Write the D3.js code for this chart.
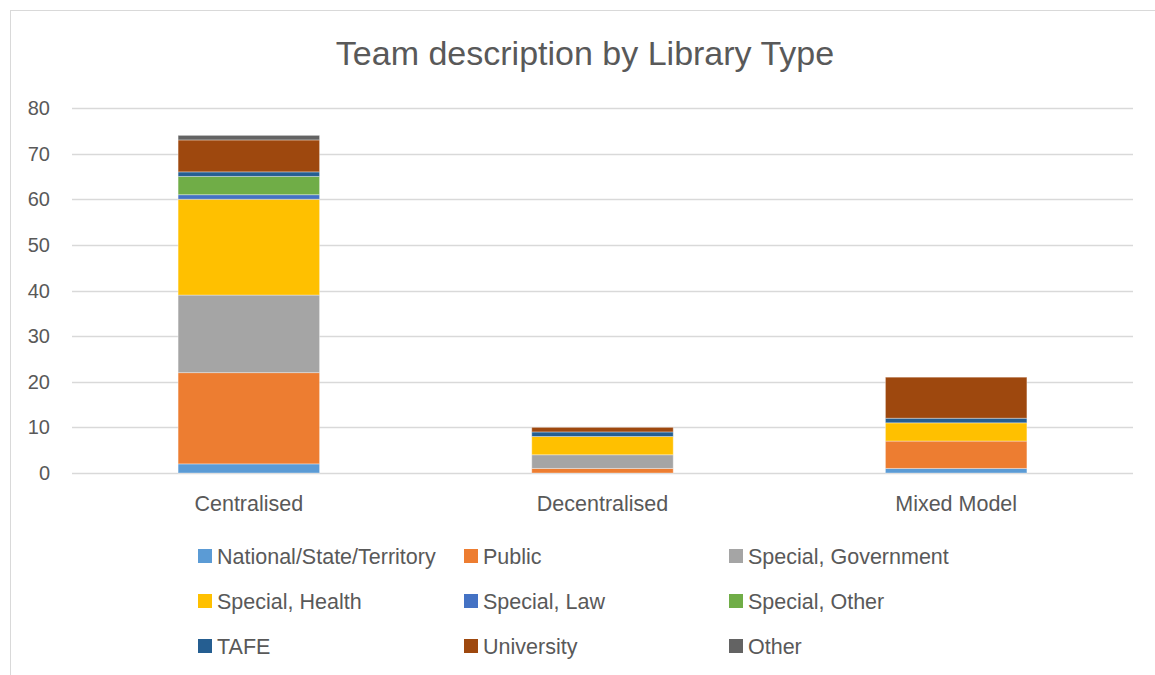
<!DOCTYPE html>
<html>
<head>
<meta charset="utf-8">
<script src="https://cdn.jsdelivr.net/npm/d3@7"></script>
<style>
  body { margin: 0; background: #fff; }
  svg text { font-family: "Liberation Sans", "Open Sans", sans-serif; fill: #595959; }
</style>
</head>
<body>
<div id="chart"></div>
<script>
// 数据
const categories = ['Centralised', 'Decentralised', 'Mixed Model'];
const seriesNames = ['National/State/Territory', 'Public', 'Special, Government', 'Special, Health',
  'Special, Law', 'Special, Other', 'TAFE', 'University', 'Other'];
const seriesColors = ['#5b9bd5', '#ed7d31', '#a5a5a5', '#ffc000', '#4472c4', '#70ad47', '#255e91', '#9e480e', '#636363'];
const centralised = [2, 20, 17, 21, 1, 4, 1, 7, 1];
const decentralised = [0, 1, 3, 4, 0, 0, 1, 1, 0];
const mixedModel = [1, 6, 0, 4, 0, 0, 1, 9, 0];
const yTicks = [0, 10, 20, 30, 40, 50, 60, 70, 80];

const width = 1155, height = 675;
const margin = { left: 72, right: 22, top: 108, bottom: 202 };

const svg = d3.select('#chart').append('svg')
  .attr('width', width)
  .attr('height', height);

// 外框
svg.append('rect')
  .attr('x', 10.5).attr('y', 10.5)
  .attr('width', width).attr('height', height)
  .attr('fill', 'none')
  .attr('stroke', '#d9d9d9');

// 标题
svg.append('text')
  .attr('x', 585).attr('y', 65)
  .attr('text-anchor', 'middle')
  .attr('font-size', 34)
  .text('Team description by Library Type');

const rows = categories.map((c, i) => {
  const vals = [centralised, decentralised, mixedModel][i];
  const row = { category: c };
  seriesNames.forEach((s, j) => { row[s] = vals[j]; });
  return row;
});

const stack = d3.stack().keys(seriesNames)(rows);

const x = d3.scaleBand()
  .domain(categories)
  .range([margin.left, width - margin.right])
  .paddingInner(0.6)
  .paddingOuter(0.3);

const y = d3.scaleLinear()
  .domain([0, 80])
  .range([height - margin.bottom, margin.top]);

// 网格线
svg.append('g')
  .selectAll('line')
  .data(yTicks)
  .join('line')
  .attr('x1', margin.left).attr('x2', width - margin.right)
  .attr('y1', d => Math.round(y(d)) + 0.5).attr('y2', d => Math.round(y(d)) + 0.5)
  .attr('stroke', '#d9d9d9')
  .attr('stroke-width', 1.5);

// Y轴标签
svg.append('g')
  .selectAll('text')
  .data(yTicks)
  .join('text')
  .attr('x', 50)
  .attr('y', d => y(d))
  .attr('dy', '0.35em')
  .attr('text-anchor', 'end')
  .attr('font-size', 20)
  .text(d => d);

// 堆叠柱
svg.append('g')
  .selectAll('g')
  .data(stack)
  .join('g')
  .attr('fill', (d, i) => seriesColors[i])
  .selectAll('rect')
  .data(d => d)
  .join('rect')
  .attr('x', d => x(d.data.category))
  .attr('width', x.bandwidth())
  .attr('y', d => y(d[1]))
  .attr('height', d => y(d[0]) - y(d[1]))
  .attr('stroke', '#fff')
  .attr('stroke-opacity', 0.35)
  .attr('stroke-width', d => d[1] > d[0] ? 1 : 0);

// X轴标签
svg.append('g')
  .selectAll('text')
  .data(categories)
  .join('text')
  .attr('x', d => x(d) + x.bandwidth() / 2)
  .attr('y', 511)
  .attr('text-anchor', 'middle')
  .attr('font-size', 21.5)
  .text(d => d);

// 图例
const legendCols = [198, 464, 729];
const legendRows = [556, 601, 646];
const legend = svg.append('g')
  .selectAll('g')
  .data(seriesNames)
  .join('g')
  .attr('transform', (d, i) => `translate(${legendCols[i % 3]}, ${legendRows[Math.floor(i / 3)]})`);

legend.append('rect')
  .attr('x', 0).attr('y', -7)
  .attr('width', 14).attr('height', 14)
  .attr('fill', (d, i) => seriesColors[i]);

legend.append('text')
  .attr('x', 19)
  .attr('dy', '0.35em')
  .attr('font-size', 21.5)
  .text(d => d);
</script>
</body>
</html>
